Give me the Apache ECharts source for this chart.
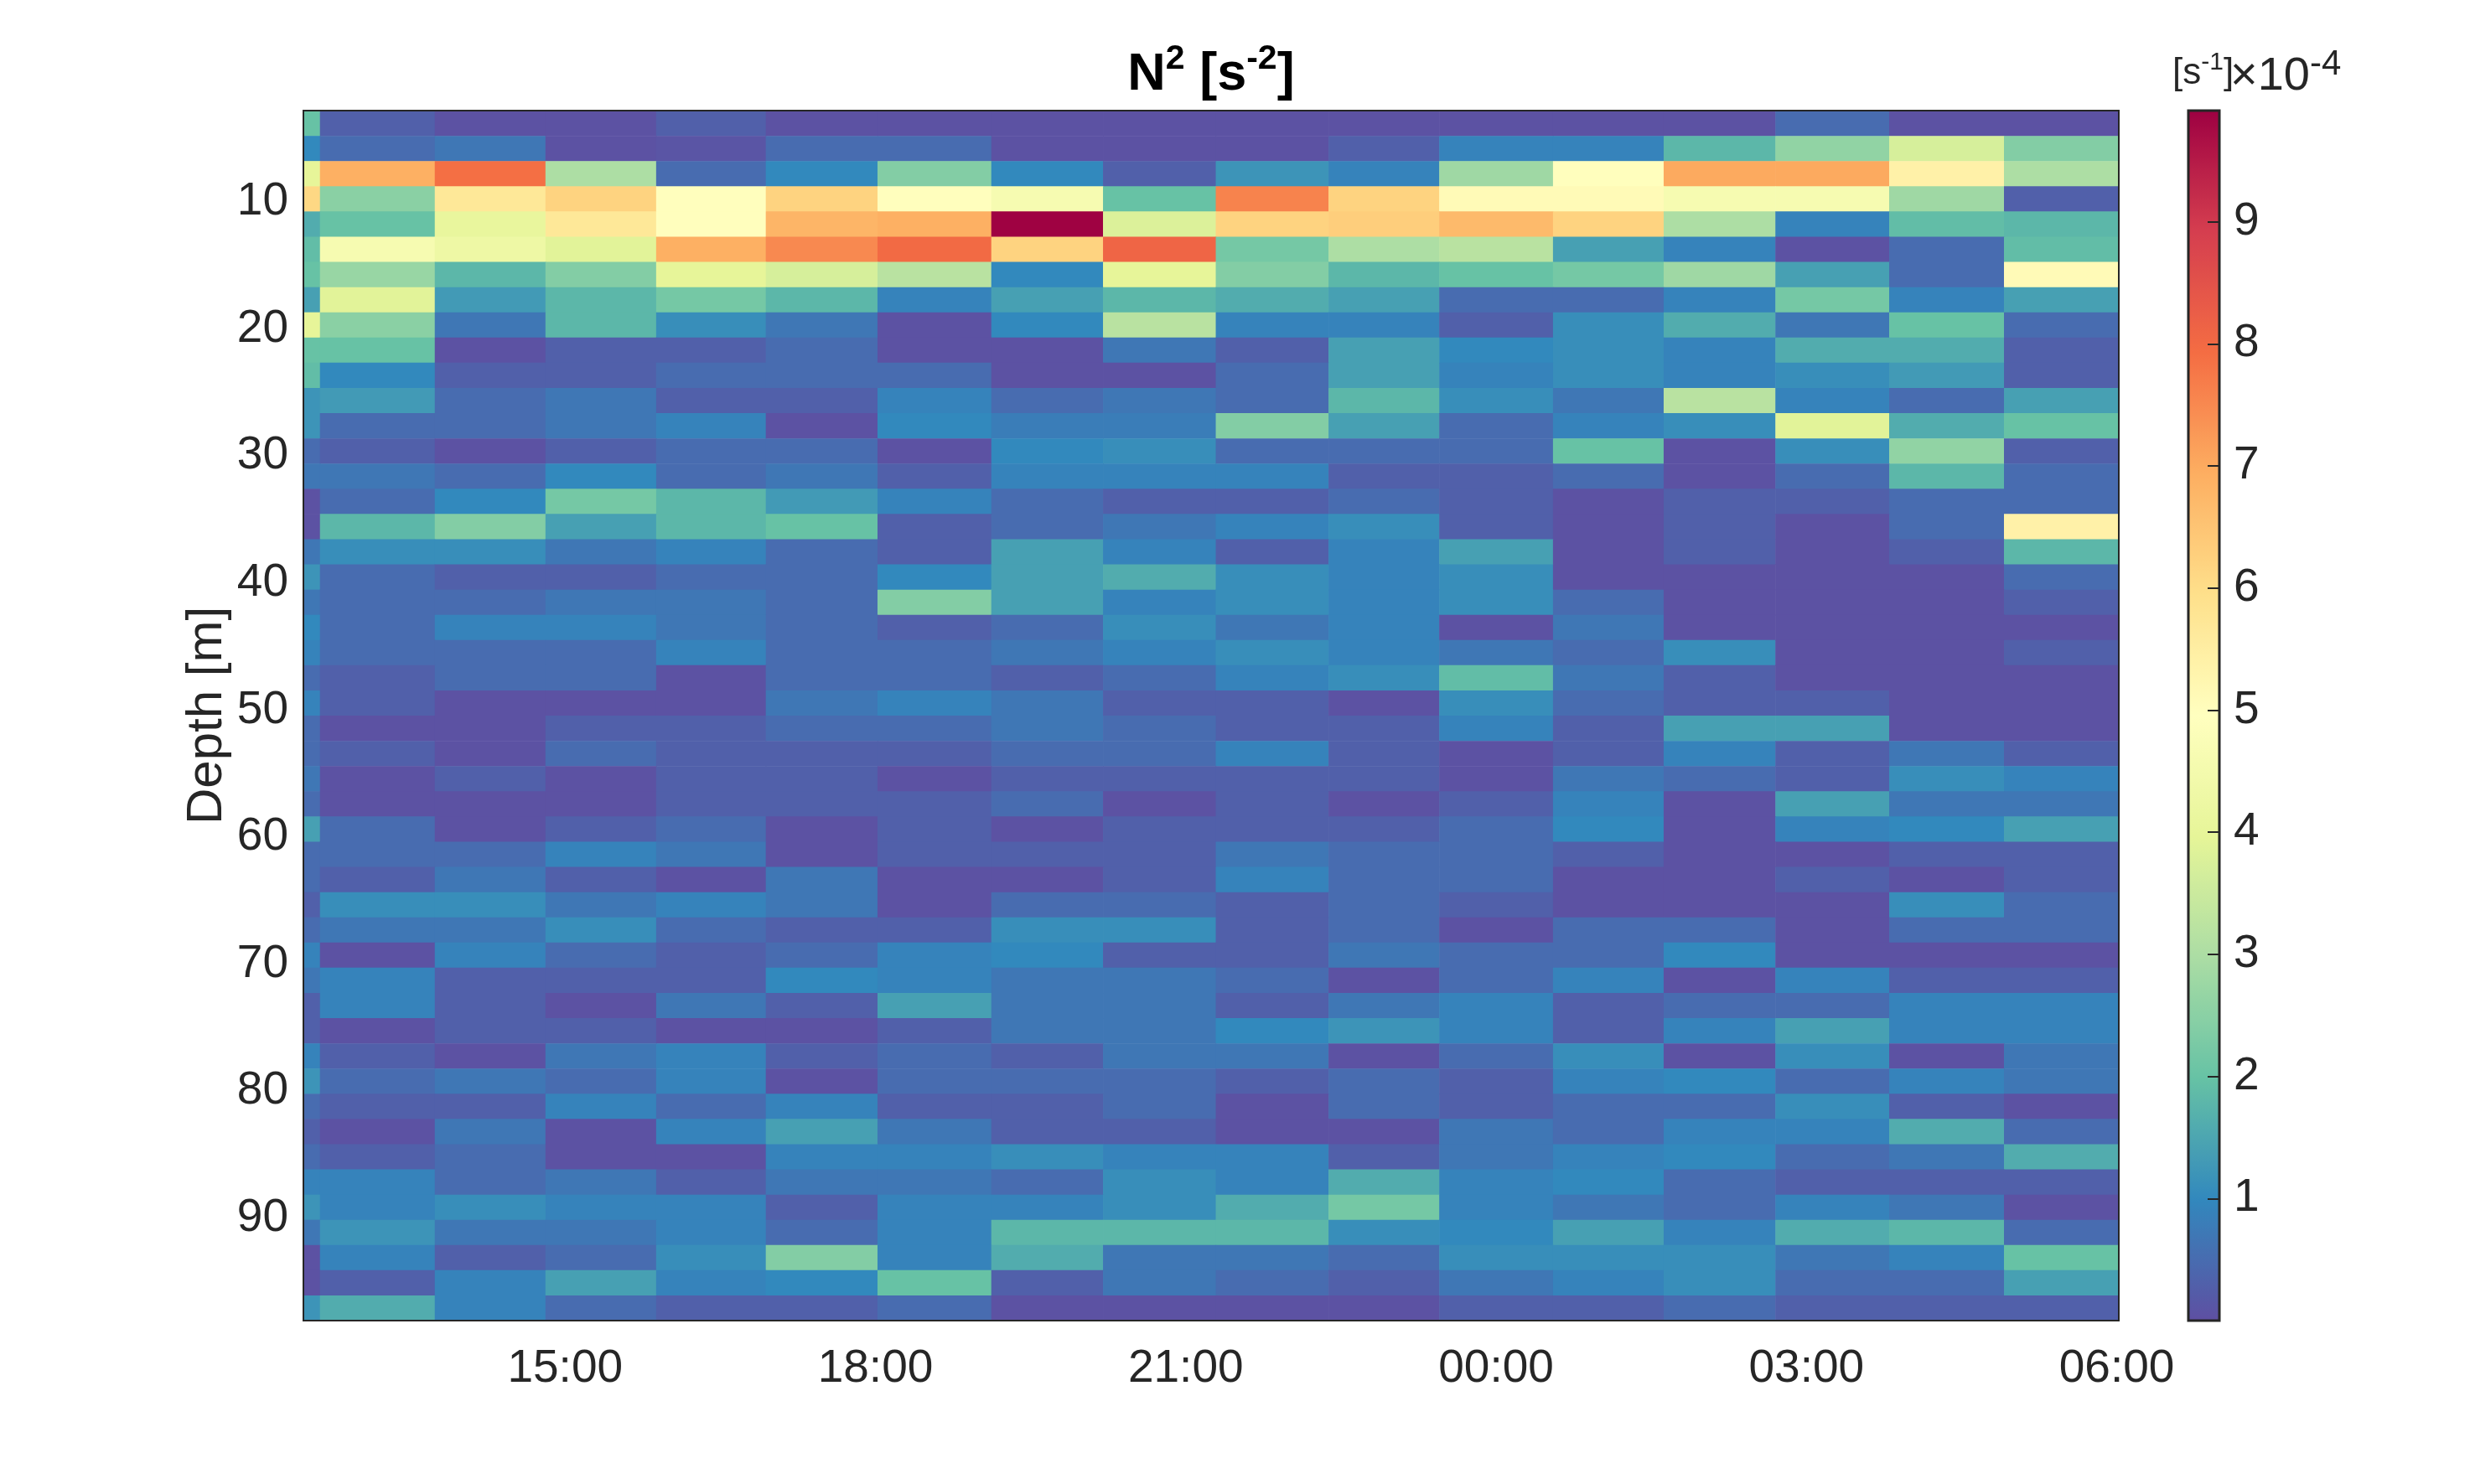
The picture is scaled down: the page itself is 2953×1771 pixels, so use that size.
<!DOCTYPE html>
<html>
<head>
<meta charset="utf-8">
<title>N2 [s-2]</title>
<script src="https://cdn.jsdelivr.net/npm/echarts@6.0.0/dist/echarts.min.js"></script>
<style>
  html, body { margin: 0; padding: 0; background: #fff; }
  #chart { width: 2953px; height: 1771px; }
</style>
</head>
<body>
<div id="chart"></div>
<script>
// column edges, hours since midnight of first day (24 = 00:00, 30 = 06:00)
var timeEdges = [12.47, 12.63, 13.74, 14.81, 15.88, 16.94, 18.02, 19.12, 20.20,
                 21.29, 22.38, 23.45, 24.55, 25.62, 26.70, 27.80, 28.91, 30.02];
// row edges, depth in m
var depthEdges = [2.80, 4.79, 6.77, 8.76, 10.74, 12.73, 14.71, 16.70, 18.68, 20.67,
                  22.65, 24.64, 26.62, 28.61, 30.59, 32.58, 34.56, 36.55, 38.53, 40.52,
                  42.50, 44.49, 46.47, 48.46, 50.44, 52.43, 54.41, 56.40, 58.38, 60.37,
                  62.35, 64.34, 66.32, 68.31, 70.29, 72.28, 74.26, 76.25, 78.23, 80.22,
                  82.20, 84.19, 86.17, 88.16, 90.14, 92.13, 94.11, 96.10, 98.08];
var xTicks = [15, 18, 21, 24, 27, 30];
var yTicks = [10, 20, 30, 40, 50, 60, 70, 80, 90];
var cbTicks = [1, 2, 3, 4, 5, 6, 7, 8, 9];
var cbMin = 0, cbMax = 9.91;
// spectral, reversed
var palette = ['#5e4fa2', '#3288bd', '#66c2a5', '#abdda4', '#e6f598', '#ffffbf',
               '#fee08b', '#fdae61', '#f46d43', '#d53e4f', '#9e0142'];

// N^2 in 1e-4 s^-2, one row per depth bin, one value per column
var n2 = [
  [2.0, 0.3, 0.05, 0.05, 0.3, 0.05, 0.05, 0.05, 0.05, 0.05, 0.05, 0.05, 0.05, 0.05, 0.5, 0.05, 0.05],
  [1.0, 0.5, 0.7, 0.05, 0.1, 0.5, 0.5, 0.05, 0.05, 0.05, 0.3, 0.9, 0.9, 1.8, 2.6, 3.7, 2.4],
  [4.0, 6.9, 7.9, 3.0, 0.5, 1.0, 2.4, 1.0, 0.3, 1.2, 0.9, 2.8, 5.0, 7.0, 7.0, 5.4, 3.0],
  [6.1, 2.5, 5.7, 6.2, 5.0, 6.2, 5.0, 4.6, 2.0, 7.6, 6.2, 5.1, 5.1, 4.6, 4.6, 2.8, 0.3],
  [1.6, 2.0, 4.1, 5.7, 5.0, 6.8, 6.9, 9.9, 3.8, 6.2, 6.3, 6.7, 6.2, 3.0, 0.9, 1.9, 1.8],
  [1.9, 4.6, 4.3, 3.9, 6.9, 7.5, 8.0, 6.2, 8.1, 2.2, 3.0, 3.2, 1.4, 0.9, 0.05, 0.5, 1.9],
  [2.0, 2.7, 1.8, 2.4, 4.0, 3.7, 3.2, 1.0, 4.0, 2.4, 1.8, 2.0, 2.2, 2.8, 1.4, 0.5, 5.1],
  [1.4, 3.9, 1.3, 1.8, 2.2, 1.8, 0.9, 1.4, 1.8, 1.6, 1.4, 0.5, 0.5, 0.9, 2.2, 0.9, 1.4],
  [4.0, 2.5, 0.7, 1.8, 1.1, 0.7, 0.05, 1.0, 3.2, 0.9, 0.9, 0.3, 1.1, 1.6, 0.7, 2.0, 0.5],
  [2.0, 2.0, 0.05, 0.3, 0.3, 0.5, 0.05, 0.05, 0.7, 0.3, 1.4, 1.0, 1.1, 0.9, 1.6, 1.6, 0.3],
  [1.9, 1.0, 0.3, 0.3, 0.5, 0.5, 0.5, 0.05, 0.05, 0.5, 1.4, 0.9, 1.1, 0.9, 1.1, 1.3, 0.3],
  [1.2, 1.3, 0.5, 0.7, 0.3, 0.3, 0.9, 0.5, 0.7, 0.5, 1.8, 1.1, 0.7, 3.2, 0.9, 0.5, 1.4],
  [1.2, 0.5, 0.5, 0.7, 0.9, 0.05, 1.0, 0.8, 0.8, 2.4, 1.4, 0.5, 0.9, 1.1, 3.9, 1.6, 2.0],
  [0.5, 0.3, 0.05, 0.3, 0.5, 0.5, 0.05, 1.0, 1.1, 0.5, 0.5, 0.5, 2.0, 0.05, 1.1, 2.6, 0.3],
  [0.7, 0.7, 0.5, 1.0, 0.5, 0.7, 0.3, 0.9, 0.9, 0.9, 0.3, 0.3, 0.5, 0.05, 0.5, 1.8, 0.5],
  [0.05, 0.5, 1.0, 2.2, 1.8, 1.3, 0.9, 0.5, 0.3, 0.3, 0.5, 0.3, 0.05, 0.3, 0.3, 0.5, 0.5],
  [0.05, 1.8, 2.4, 1.4, 1.8, 2.0, 0.3, 0.5, 0.7, 0.9, 1.1, 0.3, 0.05, 0.3, 0.05, 0.5, 5.4],
  [0.7, 1.1, 1.1, 0.7, 0.9, 0.5, 0.3, 1.4, 0.9, 0.3, 0.9, 1.4, 0.05, 0.3, 0.05, 0.3, 1.8],
  [1.2, 0.5, 0.3, 0.3, 0.5, 0.5, 1.0, 1.4, 1.6, 1.1, 0.9, 1.1, 0.05, 0.05, 0.05, 0.05, 0.5],
  [0.7, 0.5, 0.5, 0.7, 0.7, 0.5, 2.4, 1.4, 0.9, 1.1, 0.9, 1.1, 0.5, 0.05, 0.05, 0.05, 0.3],
  [1.0, 0.5, 0.9, 0.9, 0.7, 0.5, 0.3, 0.5, 1.1, 0.7, 0.9, 0.05, 0.7, 0.05, 0.05, 0.05, 0.05],
  [0.9, 0.5, 0.5, 0.5, 0.9, 0.5, 0.5, 0.7, 0.9, 1.1, 0.9, 0.7, 0.5, 1.1, 0.05, 0.05, 0.3],
  [0.5, 0.3, 0.5, 0.5, 0.05, 0.5, 0.5, 0.3, 0.5, 0.9, 1.1, 1.9, 0.7, 0.3, 0.05, 0.05, 0.05],
  [0.9, 0.3, 0.05, 0.05, 0.05, 0.7, 0.9, 0.7, 0.3, 0.3, 0.05, 1.1, 0.5, 0.3, 0.3, 0.05, 0.05],
  [0.5, 0.05, 0.05, 0.3, 0.3, 0.5, 0.5, 0.7, 0.5, 0.3, 0.3, 0.9, 0.3, 1.4, 1.4, 0.05, 0.05],
  [0.5, 0.3, 0.05, 0.5, 0.3, 0.3, 0.3, 0.5, 0.5, 0.9, 0.3, 0.05, 0.3, 0.9, 0.3, 0.7, 0.3],
  [0.7, 0.05, 0.3, 0.05, 0.3, 0.3, 0.05, 0.3, 0.3, 0.3, 0.3, 0.05, 0.7, 0.5, 0.3, 1.1, 0.9],
  [0.5, 0.05, 0.05, 0.05, 0.3, 0.3, 0.3, 0.5, 0.05, 0.3, 0.05, 0.3, 0.9, 0.05, 1.4, 0.7, 0.7],
  [1.4, 0.5, 0.05, 0.3, 0.5, 0.05, 0.3, 0.05, 0.3, 0.3, 0.3, 0.5, 1.0, 0.05, 0.9, 1.0, 1.4],
  [0.5, 0.5, 0.5, 0.9, 0.7, 0.05, 0.3, 0.3, 0.3, 0.7, 0.5, 0.5, 0.3, 0.05, 0.05, 0.3, 0.3],
  [0.5, 0.3, 0.7, 0.3, 0.05, 0.7, 0.05, 0.05, 0.3, 0.9, 0.5, 0.5, 0.05, 0.05, 0.3, 0.05, 0.3],
  [0.3, 1.1, 1.1, 0.7, 0.9, 0.7, 0.05, 0.5, 0.5, 0.3, 0.5, 0.3, 0.05, 0.05, 0.05, 1.1, 0.5],
  [0.5, 0.7, 0.7, 1.1, 0.5, 0.3, 0.3, 1.1, 1.1, 0.3, 0.5, 0.05, 0.5, 0.5, 0.05, 0.5, 0.5],
  [0.9, 0.05, 0.9, 0.5, 0.3, 0.5, 0.9, 1.0, 0.3, 0.3, 0.7, 0.5, 0.5, 1.0, 0.05, 0.05, 0.05],
  [0.7, 0.9, 0.3, 0.3, 0.3, 1.0, 0.9, 0.7, 0.7, 0.5, 0.05, 0.5, 0.9, 0.05, 0.9, 0.3, 0.3],
  [0.3, 0.9, 0.3, 0.05, 0.7, 0.3, 1.4, 0.7, 0.7, 0.3, 0.7, 0.9, 0.3, 0.5, 0.5, 0.9, 0.9],
  [0.3, 0.05, 0.3, 0.3, 0.05, 0.05, 0.3, 0.7, 0.7, 1.0, 1.2, 0.9, 0.3, 0.9, 1.4, 0.9, 0.9],
  [0.9, 0.3, 0.05, 0.7, 0.9, 0.3, 0.5, 0.3, 0.7, 0.7, 0.05, 0.5, 1.1, 0.05, 1.1, 0.05, 0.7],
  [1.2, 0.5, 0.7, 0.5, 0.9, 0.05, 0.5, 0.5, 0.5, 0.3, 0.5, 0.3, 0.9, 1.0, 0.5, 0.9, 0.7],
  [0.5, 0.3, 0.3, 0.9, 0.5, 0.9, 0.3, 0.3, 0.5, 0.05, 0.5, 0.3, 0.5, 0.5, 1.1, 0.3, 0.05],
  [0.3, 0.05, 0.7, 0.05, 0.9, 1.4, 0.7, 0.3, 0.3, 0.05, 0.05, 0.7, 0.5, 0.9, 0.9, 1.6, 0.5],
  [0.5, 0.3, 0.5, 0.05, 0.05, 0.9, 0.9, 1.1, 0.9, 0.9, 0.3, 0.7, 0.9, 1.0, 0.5, 0.7, 1.6],
  [0.9, 0.9, 0.5, 0.7, 0.3, 0.7, 0.7, 0.5, 1.1, 0.9, 1.6, 0.9, 1.0, 0.5, 0.3, 0.3, 0.3],
  [1.2, 0.9, 1.1, 0.9, 0.9, 0.3, 0.9, 0.9, 1.1, 1.6, 2.2, 0.9, 0.7, 0.5, 0.9, 0.7, 0.05],
  [0.7, 1.2, 0.7, 0.7, 0.9, 0.5, 0.9, 1.8, 1.8, 1.8, 1.1, 1.0, 1.4, 0.9, 1.6, 1.8, 0.5],
  [0.05, 0.9, 0.3, 0.5, 1.1, 2.4, 0.9, 1.6, 0.7, 0.7, 0.5, 1.1, 1.1, 1.1, 0.7, 0.9, 2.0],
  [0.05, 0.3, 0.9, 1.4, 0.9, 1.0, 2.0, 0.3, 0.7, 0.5, 0.3, 0.7, 0.9, 1.1, 0.5, 0.5, 1.4],
  [1.2, 1.6, 0.9, 0.5, 0.3, 0.3, 0.5, 0.05, 0.05, 0.05, 0.05, 0.3, 0.3, 0.5, 0.3, 0.3, 0.3]
];

var FONT = '"Liberation Sans", Helvetica, Arial, sans-serif';
var INK = '#262626';

// cells: [t0, t1, z0, z1, value]
var cells = [];
for (var r = 0; r < n2.length; r++) {
  for (var c = 0; c < n2[r].length; c++) {
    cells.push([timeEdges[c], timeEdges[c + 1], depthEdges[r], depthEdges[r + 1], n2[r][c]]);
  }
}

function hhmm(v) {
  var h = Math.round(v) % 24;
  return (h < 10 ? '0' : '') + h + ':00';
}

var chart = echarts.init(document.getElementById('chart'), null, { renderer: 'canvas' });

var option = {
  backgroundColor: '#ffffff',
  animation: false,
  textStyle: { fontFamily: FONT },
  grid: [
    { left: 362, top: 132, width: 2166, height: 1444, show: true,
      borderColor: INK, borderWidth: 2, backgroundColor: 'transparent', z: 5 },
    { left: 2611, top: 132, width: 37, height: 1444, show: true, zlevel: 1,
      borderColor: INK, borderWidth: 3, backgroundColor: 'transparent', z: 10 }
  ],
  xAxis: [
    { type: 'value', gridIndex: 0, min: timeEdges[0], max: timeEdges[timeEdges.length - 1],
      axisLine: { show: false }, axisTick: { show: false }, splitLine: { show: false },
      axisLabel: { customValues: xTicks, formatter: hhmm, fontSize: 55, color: INK,
                   fontFamily: FONT, margin: 30 } },
    { type: 'value', gridIndex: 1, min: 0, max: 1, show: false }
  ],
  yAxis: [
    { type: 'value', gridIndex: 0, inverse: true, min: depthEdges[0], max: depthEdges[depthEdges.length - 1],
      axisLine: { show: false }, axisTick: { show: false }, splitLine: { show: false },
      axisLabel: { customValues: yTicks, fontSize: 55, color: INK, fontFamily: FONT, margin: 18 } },
    // colorbar labels, right of the bar
    { type: 'value', gridIndex: 1, position: 'right', min: cbMin, max: cbMax, zlevel: 1, z: 12,
      axisLine: { show: false }, splitLine: { show: false }, axisTick: { show: false },
      axisLabel: { customValues: cbTicks, fontSize: 55, color: INK, fontFamily: FONT, margin: 17 } },
    // colorbar tick marks, pointing into the bar from its right edge
    { type: 'value', gridIndex: 1, position: 'left', offset: -37, min: cbMin, max: cbMax, zlevel: 1, z: 12,
      axisLine: { show: false }, splitLine: { show: false }, axisLabel: { show: false },
      axisTick: { show: true, inside: false, length: 14, customValues: cbTicks,
                  lineStyle: { color: INK, width: 2 } } }
  ],
  visualMap: {
    type: 'continuous', min: cbMin, max: cbMax, dimension: 4, seriesIndex: 0,
    show: true, calculable: false, hoverLink: false, realtime: false,
    left: 2611, top: 132, itemWidth: 37, itemHeight: 1444, padding: 0,
    text: null, textStyle: { color: 'transparent' },
    inRange: { color: palette }
  },
  series: [
    {
      type: 'custom', xAxisIndex: 0, yAxisIndex: 0, clip: true,
      data: cells,
      renderItem: function (params, api) {
        var p0 = api.coord([api.value(0), api.value(2)]);
        var p1 = api.coord([api.value(1), api.value(3)]);
        return {
          type: 'rect',
          shape: { x: p0[0], y: p0[1], width: p1[0] - p0[0] + 0.6, height: p1[1] - p0[1] + 0.6 },
          style: { fill: api.visual('color') }
        };
      }
    },
    { type: 'line', xAxisIndex: 1, yAxisIndex: 1, data: [], silent: true },
    { type: 'line', xAxisIndex: 1, yAxisIndex: 2, data: [], silent: true }
  ],
  graphic: [
    { type: 'text', x: 1445, y: 50, z: 20,
      style: { text: '{b|N}{s|2}{b| [s}{s|-2}{b|]}', align: 'center', verticalAlign: 'top',
               rich: {
                 b: { fontSize: 63, fontWeight: 'bold', fontFamily: FONT, fill: '#000', lineHeight: 80 },
                 s: { fontSize: 41, fontWeight: 'bold', fontFamily: FONT, fill: '#000', lineHeight: 32, verticalAlign: 'top' }
               } } },
    { type: 'text', x: 247, y: 854, rotation: Math.PI / 2, z: 20,
      style: { text: 'Depth [m]', align: 'center', verticalAlign: 'middle',
               fontSize: 60, fontFamily: FONT, fill: INK } },
    { type: 'text', x: 2592, y: 60, z: 20,
      style: { text: '{a|[s}{s|-1}{a|]}', align: 'left', verticalAlign: 'top',
               rich: {
                 a: { fontSize: 44, fontFamily: FONT, fill: INK, lineHeight: 56 },
                 s: { fontSize: 30, fontFamily: FONT, fill: INK, lineHeight: 24, verticalAlign: 'top' }
               } } },
    { type: 'text', x: 2661, y: 56, z: 20,
      style: { text: '{a|×10}{s|-4}', align: 'left', verticalAlign: 'top',
               rich: {
                 a: { fontSize: 56, fontFamily: FONT, fill: INK, lineHeight: 72 },
                 s: { fontSize: 42, fontFamily: FONT, fill: INK, lineHeight: 24, verticalAlign: 'top' }
               } } }
  ]
};

chart.setOption(option);
window.addEventListener('resize', function () { chart.resize(); });
</script>
</body>
</html>
